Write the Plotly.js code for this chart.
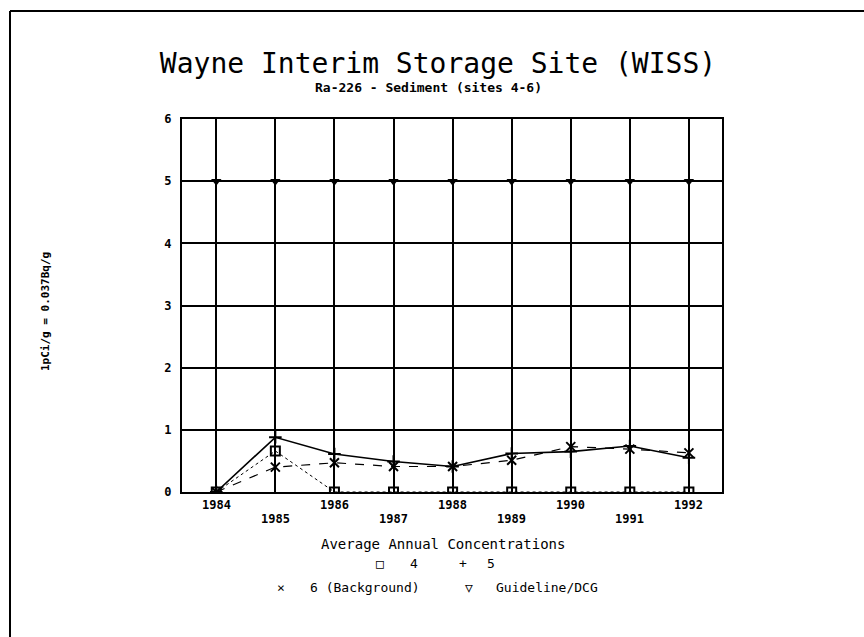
<!DOCTYPE html>
<html>
<head>
<meta charset="utf-8">
<script src="https://cdn.plot.ly/plotly-3.0.1.min.js"></script>
<style>html,body{margin:0;padding:0;background:#fff;}#chart{width:864px;height:637px;}</style>
</head>
<body>
<div id="chart"></div>
<script>
// ---- data ----
var years = [1984, 1985, 1986, 1987, 1988, 1989, 1990, 1991, 1992];
var yearLabels = ["1984", "1985", "1986", "1987", "1988", "1989", "1990", "1991", "1992"];
var site4 = [0, 0.66, 0, 0, 0, 0, 0, 0, 0];
var site5 = [0, 0.88, 0.61, 0.49, 0.41, 0.62, 0.65, 0.74, 0.55];
var site6 = [0, 0.40, 0.47, 0.41, 0.41, 0.51, 0.73, 0.69, 0.63];
var guideline = [5, 5, 5, 5, 5, 5, 5, 5, 5];
var yTicks = [0, 1, 2, 3, 4, 5, 6];

var MONO = "DejaVu Sans Mono, monospace";
// plot area in pixels
var L = 182, R = 722, T = 119, B = 492;
function px(x) { return (x - L) / (R - L); }
function py(y) { return (B - y) / (B - T); }

var traces = [
  {x: years, y: guideline, name: "Guideline/DCG", mode: "lines+markers",
   line: {color: "#000", width: 1.5},
   marker: {symbol: "triangle-down", size: 9, color: "#000"}},
  {x: years, y: site4, name: "4", mode: "lines+markers",
   line: {color: "#000", width: 1, dash: "dot"},
   marker: {symbol: "square-open", size: 9, color: "#000", line: {width: 2, color: "#000"}}},
  {x: years, y: site5, name: "5", mode: "lines+markers",
   line: {color: "#000", width: 1.6},
   marker: {symbol: "cross-thin-open", size: 9, color: "#000", line: {width: 2, color: "#000"}}},
  {x: years, y: site6, name: "6 (Background)", mode: "lines+markers",
   line: {color: "#000", width: 1.2, dash: "dash"},
   marker: {symbol: "x-thin-open", size: 9, color: "#000", line: {width: 2, color: "#000"}}}
];

var annotations = [];
// staggered year labels
years.forEach(function (yr, i) {
  annotations.push({
    x: yr, xref: "x", y: py(i % 2 === 0 ? 505 : 519), yref: "paper",
    text: yearLabels[i], showarrow: false, xanchor: "center", yanchor: "middle",
    font: {family: MONO, size: 12, color: "#000", weight: "bold"}
  });
});
// subtitle
annotations.push({
  x: px(428), xref: "paper", y: py(88), yref: "paper",
  text: "Ra-226 - Sediment (sites 4-6)", showarrow: false,
  xanchor: "center", yanchor: "middle",
  font: {family: MONO, size: 13, color: "#000", weight: "bold"}
});
// y axis title
annotations.push({
  x: px(45), xref: "paper", y: py(312), yref: "paper",
  text: "1pCi/g = 0.037Bq/g", showarrow: false, textangle: -90,
  xanchor: "center", yanchor: "middle",
  font: {family: MONO, size: 11, color: "#000", weight: "bold"}
});
// legend
var legendItems = [
  {t: "Average Annual Concentrations", x: 443, y: 544, s: 14},
  {t: "\u25A1", x: 380, y: 563, s: 13},
  {t: traces[1].name, x: 414, y: 563, s: 13},
  {t: "+", x: 463, y: 563, s: 13},
  {t: traces[2].name, x: 491, y: 563, s: 13},
  {t: "\u00D7", x: 281, y: 587, s: 13},
  {t: traces[3].name, x: 365, y: 587, s: 13},
  {t: "\u25BD", x: 469, y: 587, s: 13},
  {t: traces[0].name, x: 547, y: 587, s: 13}
];
legendItems.forEach(function (it) {
  annotations.push({
    x: px(it.x), xref: "paper", y: py(it.y), yref: "paper",
    text: it.t, showarrow: false, xanchor: "center", yanchor: "middle",
    font: {family: MONO, size: it.s, color: "#000"}
  });
});

var layout = {
  width: 864, height: 637,
  paper_bgcolor: "#fff", plot_bgcolor: "#fff",
  margin: {l: L, r: 864 - R, t: T, b: 637 - B, pad: 0},
  showlegend: false,
  title: {
    text: "Wayne Interim Storage Site (WISS)",
    x: 438 / 864, xref: "container", xanchor: "center",
    y: 1 - 63 / 637, yref: "container", yanchor: "middle",
    font: {family: MONO, size: 28, color: "#000"}
  },
  xaxis: {
    range: [1983.42, 1992.56], tickvals: years, showticklabels: false,
    showgrid: true, gridcolor: "#000", gridwidth: 2,
    showline: true, linecolor: "#000", linewidth: 2, mirror: true,
    zeroline: false, ticks: ""
  },
  yaxis: {
    range: [0, 6], tickvals: yTicks, ticktext: yTicks.map(String),
    showgrid: true, gridcolor: "#000", gridwidth: 2,
    showline: true, linecolor: "#000", linewidth: 2, mirror: true,
    zeroline: false, ticks: "", ticklabelstandoff: 6,
    tickfont: {family: MONO, size: 12, color: "#000", weight: "bold"}
  },
  shapes: [
    {type: "line", xref: "paper", yref: "paper", x0: px(10), x1: px(870), y0: py(11), y1: py(11),
     line: {color: "#000", width: 2}},
    {type: "line", xref: "paper", yref: "paper", x0: px(10), x1: px(10), y0: py(11), y1: py(645),
     line: {color: "#000", width: 2}}
  ],
  annotations: annotations
};

Plotly.newPlot("chart", traces, layout, {displayModeBar: false, staticPlot: true});
</script>
</body>
</html>
